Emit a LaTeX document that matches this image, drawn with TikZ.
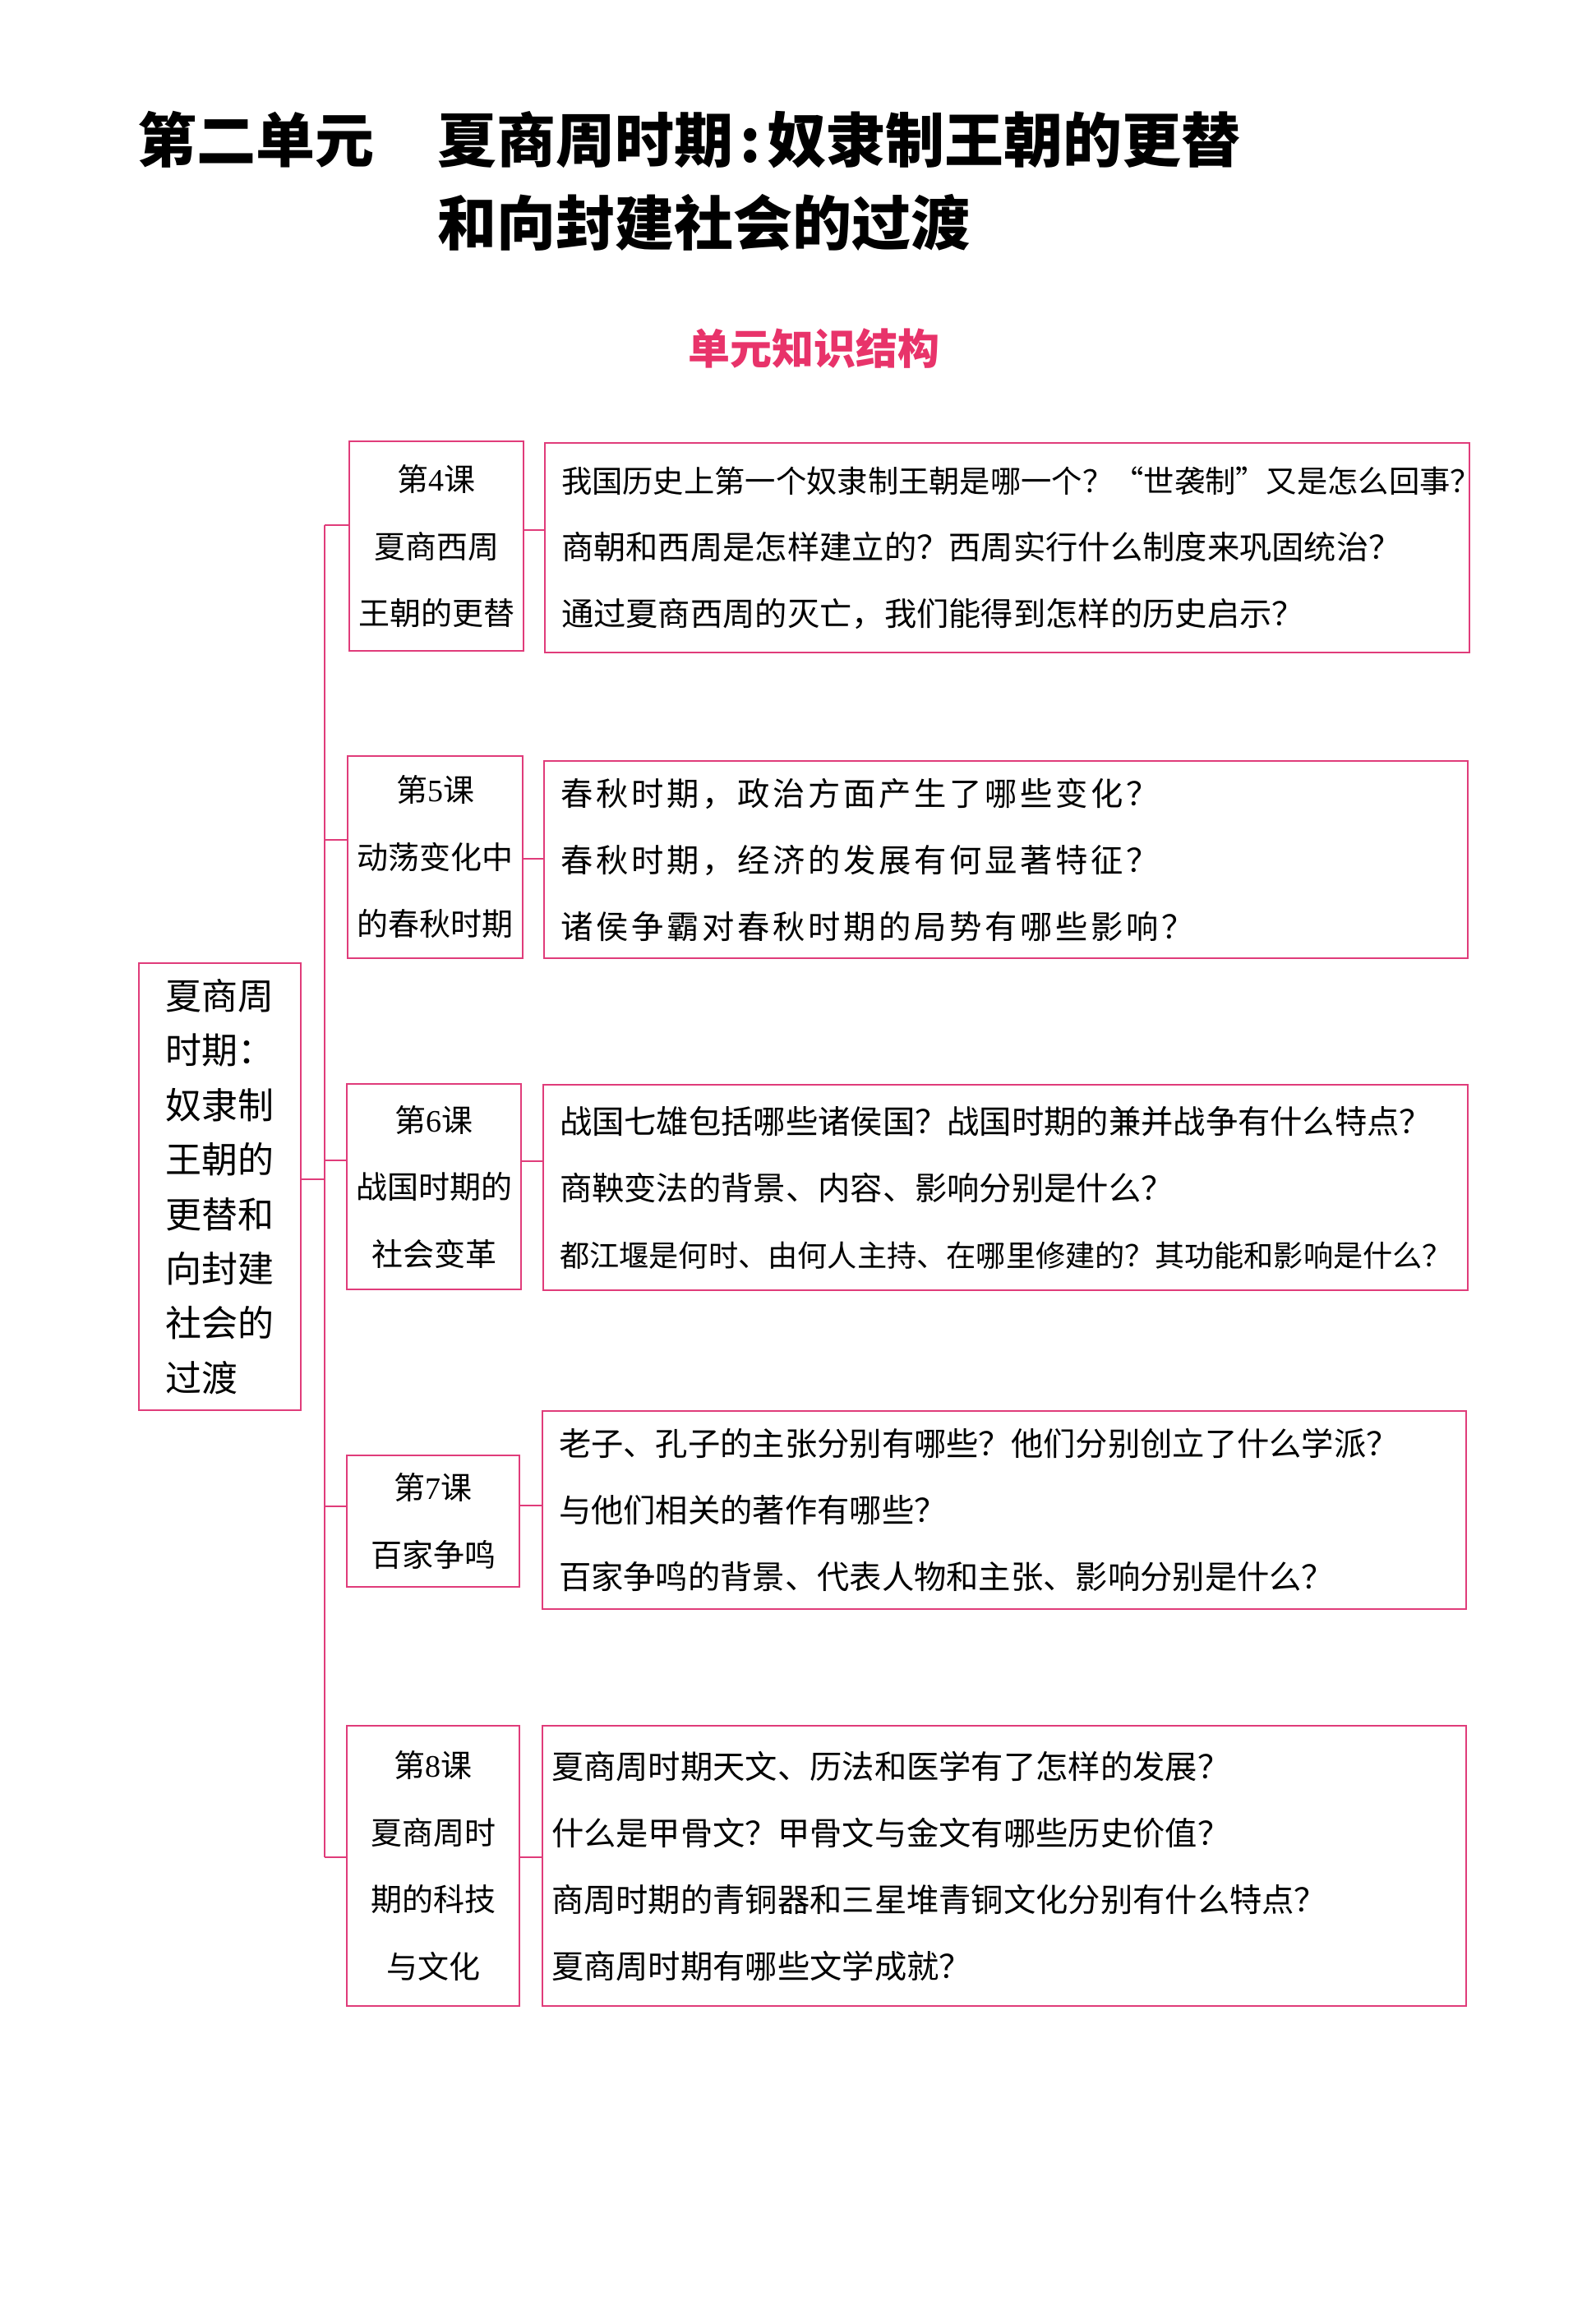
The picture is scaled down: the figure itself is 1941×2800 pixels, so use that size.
\documentclass[tikz,border=0pt]{standalone}
\usepackage{fontspec}
\setmainfont{Liberation Serif}
\newfontfamily\cjk{Noto Sans CJK SC}
\definecolor{pk}{HTML}{E03C7A}
\definecolor{pkt}{HTML}{E8336A}
\begin{document}
\begin{tikzpicture}[x=1pt,y=-1pt,
  conn/.style={draw=pk, line width=2.2pt},
  lbox/.style={draw=pk, line width=2.2pt, inner sep=0pt, align=center,
    font=\cjk\fontsize{38}{81.5}\selectfont},
  qbox/.style={draw=pk, line width=2.2pt, inner xsep=20pt, inner ysep=0pt, align=left,
    font=\cjk\fontsize{39.3}{81}\selectfont},
  mbox/.style={draw=pk, line width=2.2pt, inner sep=0pt, align=left,
    font=\cjk\fontsize{44}{66.4}\selectfont},
  ttl/.style={anchor=west, inner sep=0pt, font=\cjk\bfseries\fontsize{72}{100}\selectfont}]
\useasboundingbox[fill=white] (0,0) rectangle (1941,2800);

% title
\node[ttl] (t1) at (167,170) {第二单元};
\node[ttl] (t2) at (532,170) {夏商周时期\hspace{8pt}:\hspace{8pt}奴隶制王朝的更替};
\node[ttl] (t3) at (532,271) {和向封建社会的过渡};
\node[inner sep=0pt, text=pkt, font=\cjk\bfseries\fontsize{51}{60}\selectfont] (sub) at (990,424) {单元知识结构};

% main box
\node[mbox, minimum width=197pt, minimum height=544pt] (m) at (267.5,1444)
  {夏商周\\时期：\\奴隶制\\王朝的\\更替和\\向封建\\社会的\\过渡};

% lesson boxes
\node[lbox, minimum width=212pt, minimum height=255pt] (l4) at (531,664.5)
  {第\textrm{4}课\\夏商西周\\王朝的更替};
\node[lbox, minimum width=213pt, minimum height=246pt] (l5) at (529.5,1043)
  {第\textrm{5}课\\动荡变化中\\的春秋时期};
\node[lbox, minimum width=212pt, minimum height=250pt] (l6) at (528,1444)
  {第\textrm{6}课\\战国时期的\\社会变革};
\node[lbox, minimum width=210pt, minimum height=160pt] (l7) at (527,1851)
  {第\textrm{7}课\\百家争鸣};
\node[lbox, minimum width=210pt, minimum height=341pt] (l8) at (527,2270.5)
  {第\textrm{8}课\\夏商周时\\期的科技\\与文化};

% question boxes
\node[qbox, text width=1085pt, minimum height=255pt] (q4) at (1225.5,666.5)
  {{\fontsize{37.3}{81}\selectfont 我国历史上第一个奴隶制王朝是哪一个？“世袭制”又是怎么回事？}\\
   商朝和西周是怎样建立的？西周实行什么制度来巩固统治？\\
   通过夏商西周的灭亡，我们能得到怎样的历史启示？};
\node[qbox, text width=1084pt, minimum height=240pt,
      font=\cjk\addfontfeatures{LetterSpace=9.5}\fontsize{39.3}{81}\selectfont] (q5) at (1224,1046)
  {春秋时期，政治方面产生了哪些变化？\\
   春秋时期，经济的发展有何显著特征？\\
   诸侯争霸对春秋时期的局势有哪些影响？};
\node[qbox, text width=1085pt, minimum height=250pt] (q6) at (1223.5,1445)
  {战国七雄包括哪些诸侯国？战国时期的兼并战争有什么特点？\\
   商鞅变法的背景、内容、影响分别是什么？\\
   {\fontsize{36.2}{81}\selectfont 都江堰是何时、由何人主持、在哪里修建的？其功能和影响是什么？}};
\node[qbox, text width=1084pt, minimum height=241pt] (q7) at (1222,1837.5)
  {老子、孔子的主张分别有哪些？他们分别创立了什么学派？\\
   与他们相关的著作有哪些？\\
   百家争鸣的背景、代表人物和主张、影响分别是什么？};
\node[qbox, inner xsep=11pt, text width=1102pt, minimum height=341pt] (q8) at (1222,2270.5)
  {夏商周时期天文、历法和医学有了怎样的发展？\\
   什么是甲骨文？甲骨文与金文有哪些历史价值？\\
   商周时期的青铜器和三星堆青铜文化分别有什么特点？\\
   夏商周时期有哪些文学成就？};

% spine coordinates
\coordinate (s4) at (395,639);
\coordinate (s5) at (395,1022);
\coordinate (s6) at (395,1412);
\coordinate (sm) at (395,1435);
\coordinate (s7) at (395,1833);
\coordinate (s8) at (395,2260);
\coordinate (c4) at (0,645);
\coordinate (c5) at (0,1045);
\coordinate (c6) at (0,1413);
\coordinate (c7) at (0,1832);
\coordinate (c8) at (0,2260);

\draw[conn] (s4) -- (s8);
\draw[conn] (s4) -- (s4 -| l4.west);
\draw[conn] (s5) -- (s5 -| l5.west);
\draw[conn] (s6) -- (s6 -| l6.west);
\draw[conn] (s7) -- (s7 -| l7.west);
\draw[conn] (s8) -- (s8 -| l8.west);
\draw[conn] (m.east |- sm) -- (sm);
\draw[conn] (l4.east |- c4) -- (q4.west |- c4);
\draw[conn] (l5.east |- c5) -- (q5.west |- c5);
\draw[conn] (l6.east |- c6) -- (q6.west |- c6);
\draw[conn] (l7.east |- c7) -- (q7.west |- c7);
\draw[conn] (l8.east |- c8) -- (q8.west |- c8);
\end{tikzpicture}
\end{document}
